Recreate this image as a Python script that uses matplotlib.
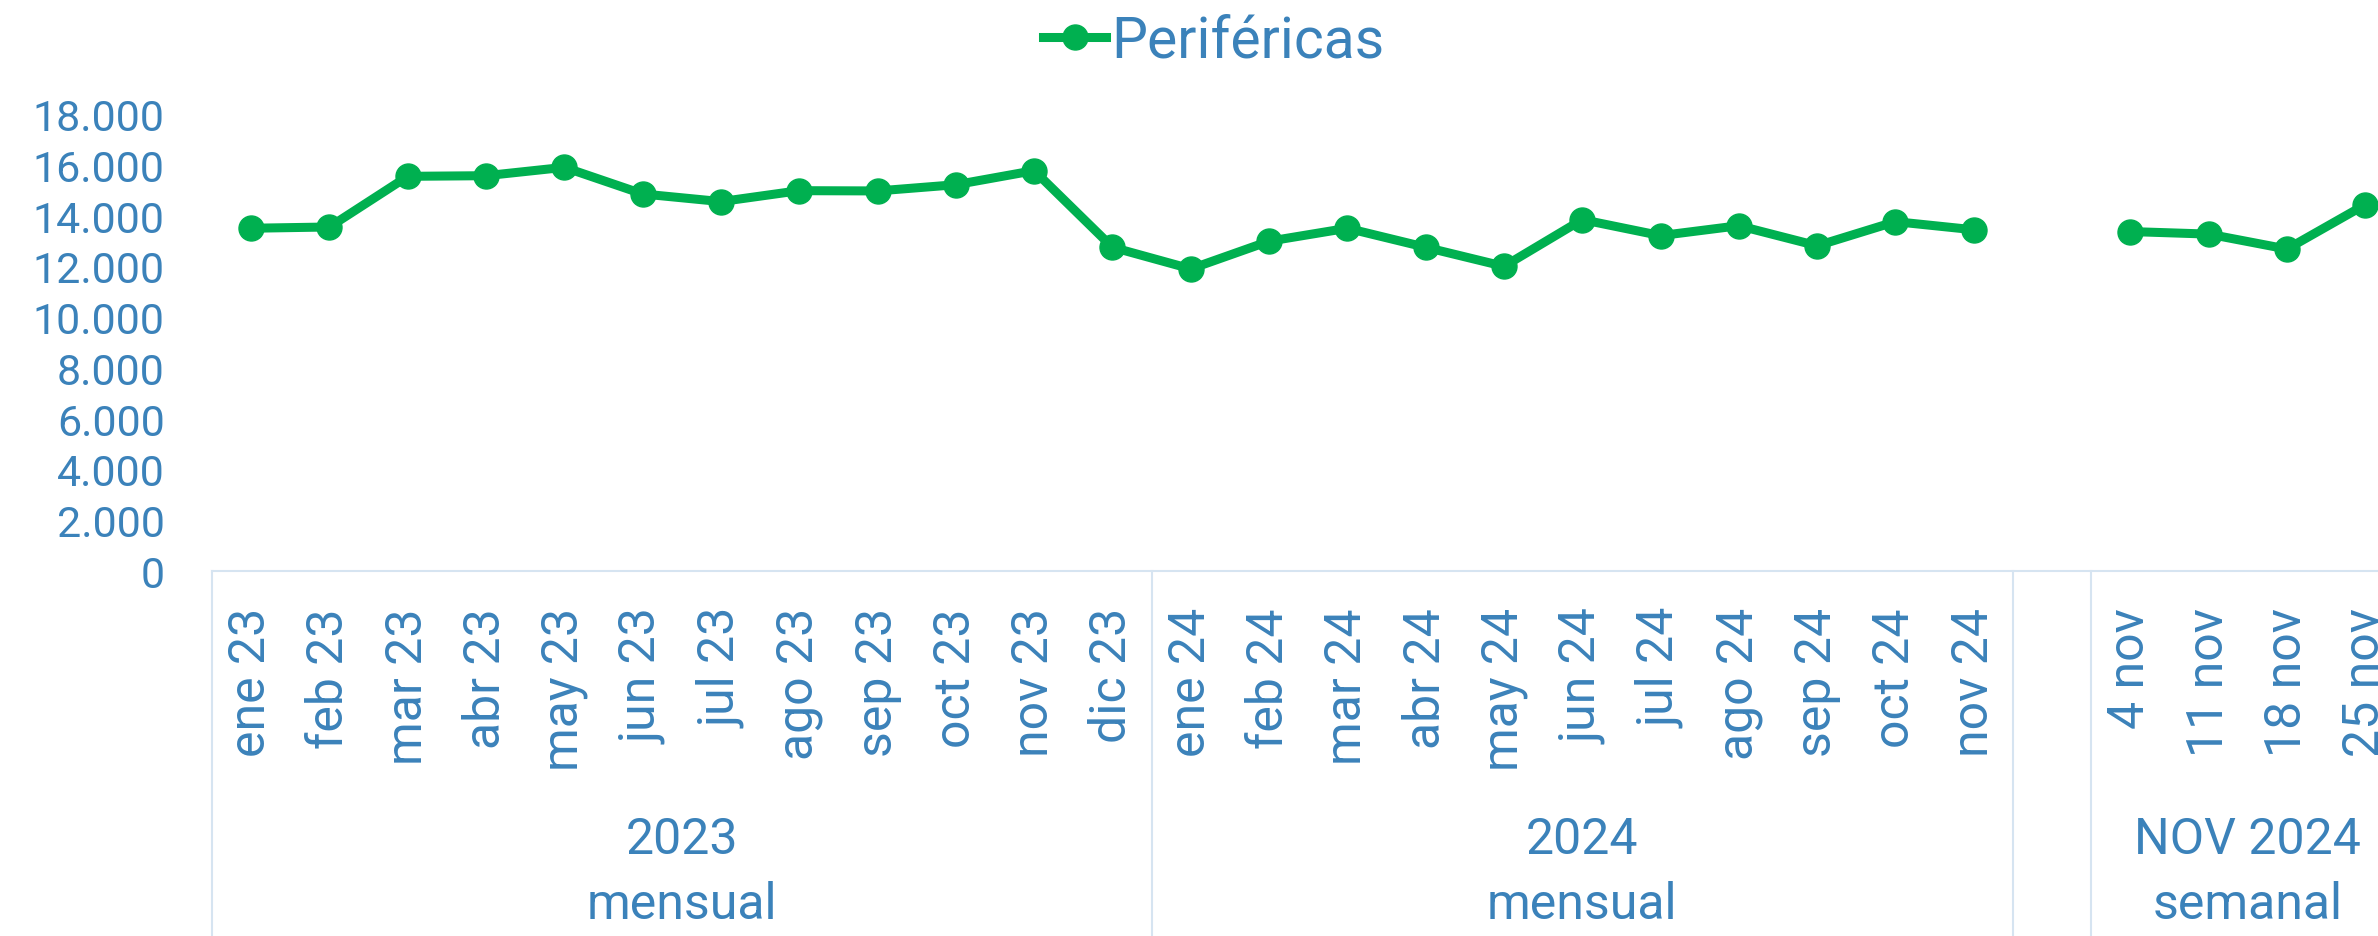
import numpy as np
import matplotlib
matplotlib.use("Agg")
import matplotlib.pyplot as plt
from matplotlib.lines import Line2D
import matplotlib.transforms as mtransforms

# ---- data ----
categories = ["ene 23", "feb 23", "mar 23", "abr 23", "may 23", "jun 23", "jul 23",
              "ago 23", "sep 23", "oct 23", "nov 23", "dic 23",
              "ene 24", "feb 24", "mar 24", "abr 24", "may 24", "jun 24", "jul 24",
              "ago 24", "sep 24", "oct 24", "nov 24",
              "",
              "4 nov", "11 nov", "18 nov", "25 nov"]
perifericas = [13500, 13550, 15545, 15570, 15900, 14850, 14550, 14980, 14970, 15215,
               15770, 12750,
               11900, 12990, 13500, 12750, 12000, 13840, 13210, 13600, 12810, 13760,
               13440,
               np.nan,
               13370, 13270, 12680, 14430]
group_top = ["2023", "2024", "NOV 2024"]
group_bottom = ["mensual", "mensual", "semanal"]
group_spans = [(0, 11), (12, 22), (24, 27)]
separators = [-0.5, 11.5, 22.5, 23.5, 27.5]
yticks = [0, 2000, 4000, 6000, 8000, 10000, 12000, 14000, 16000, 18000]
series_name = "Periféricas"

# ---- style ----
W, H = 2378, 937
DPI = 100
TXT = "#3B82BA"
AX = "#D6E4F1"
GREEN = "#00B050"
FONT = ["Roboto", "DejaVu Sans"]
plt.rcParams["font.family"] = FONT

fig = plt.figure(figsize=(W / DPI, H / DPI), dpi=DPI)
x0_px, y0_px, ytop_px = 212, 572, 115
ax = fig.add_axes([x0_px / W, (H - y0_px) / H, (W - x0_px) / W, (y0_px - ytop_px) / H])

x = np.arange(len(categories))
ax.plot(x, perifericas, color=GREEN, lw=6.5, marker="o", ms=18,
        solid_joinstyle="round", clip_on=False, zorder=3)

step_px = 78.3
xr = -0.5 + (W - x0_px) / step_px
ax.set_xlim(-0.5, xr)
ax.set_ylim(0, 18000)

ax.set_yticks(yticks)
ax.set_yticklabels([f"{v:,}".replace(",", ".") for v in yticks])
ax.set_xticks(x)
ax.set_xticklabels(categories, rotation=90)
ax.tick_params(axis="y", length=0, pad=34, labelsize=31, labelcolor=TXT)
ax.tick_params(axis="x", length=0, pad=26, labelsize=36, labelcolor=TXT)
for s in ["top", "right", "left"]:
    ax.spines[s].set_visible(False)
ax.spines["bottom"].set_color(AX)
ax.spines["bottom"].set_linewidth(1.5)

# group separators below the axis
trans = mtransforms.blended_transform_factory(ax.transData, ax.transAxes)
for sx in separators:
    ax.add_line(Line2D([sx, sx], [0, -0.85], transform=trans, color=AX, lw=1.5,
                       clip_on=False))

# group labels
trans2 = mtransforms.blended_transform_factory(ax.transData, fig.transFigure)
for (a, b), t1, t2 in zip(group_spans, group_top, group_bottom):
    cx = (a + b) / 2
    ax.text(cx, (H - 840) / H, t1, transform=trans2, ha="center", va="center",
            fontsize=36, color=TXT)
    ax.text(cx, (H - 905) / H, t2, transform=trans2, ha="center", va="center",
            fontsize=36, color=TXT)

# legend
h = Line2D([], [], color=GREEN, lw=6.5, marker="o", ms=18)
fig.legend([h], [series_name], loc="center", bbox_to_anchor=(1214 / W, 1 - 42 / H),
           frameon=False, fontsize=41, labelcolor=TXT, handlelength=1.1,
           handletextpad=0.1, borderpad=0, borderaxespad=0)

fig.savefig("out.png", dpi=DPI)
